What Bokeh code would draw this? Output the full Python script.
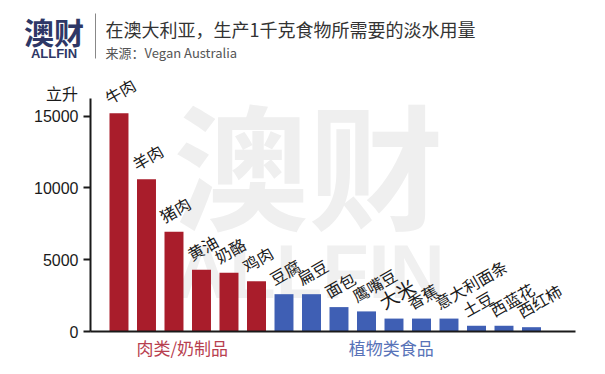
from bokeh.plotting import figure
from bokeh.models import ColumnDataSource, FixedTicker, Range1d
from bokeh.core.properties import value
from bokeh.embed import file_html
from bokeh.resources import INLINE

# ---- data ----
foods = ["牛肉", "羊肉", "猪肉", "黄油", "奶酪", "鸡肉", "豆腐", "扁豆", "面包", "鹰嘴豆",
         "大米", "香蕉", "意大利面条", "土豆", "西蓝花", "西红柿"]
litres = [15200, 10600, 6950, 4300, 4100, 3500, 2600, 2600, 1700, 1400,
          900, 900, 900, 400, 400, 300]
groups = ["肉类/奶制品"] * 6 + ["植物类食品"] * 10
group_names = ["肉类/奶制品", "植物类食品"]
y_ticks = [0, 5000, 10000, 15000]
y_unit = "立升"
title = "在澳大利亚，生产1千克食物所需要的淡水用量"
subtitle = "来源：Vegan Australia"

# ---- style ----
CJK = "Noto Sans CJK SC"
RED = "#a91d2b"
BLUE = "#3f5fb4"
INK = "#1a1a1a"
group_colors = {"肉类/奶制品": RED, "植物类食品": BLUE}
group_text_colors = {"肉类/奶制品": "#b8404f", "植物类食品": "#5873b8"}
label_sizes = ["16px"] * len(foods)
label_sizes[foods.index("大米")] = "19px"

W, H = 589, 366
XPX = 27.5            # pixels per bar slot
YPX = 215.3 / 15000   # pixels per litre
AXIS_X = -1.036       # y axis position in bar units
X0 = AXIS_X - 90 / XPX
X1 = X0 + W / XPX
Y1 = 331 / YPX
Y0 = -(H - 331) / YPX


def px(x):
    return X0 + x / XPX


def py(y):
    return Y1 - y / YPX


xs = list(range(len(foods)))
src = ColumnDataSource(dict(
    x=xs, top=litres, food=foods,
    color=[group_colors[g] for g in groups],
    size=label_sizes,
))

p = figure(width=W, height=H, output_backend="svg", toolbar_location=None,
           x_range=Range1d(X0, X1), y_range=Range1d(Y0, Y1),
           min_border_left=0, min_border_right=0, min_border_top=0, min_border_bottom=0)
p.background_fill_color = "white"
p.border_fill_color = "white"
p.outline_line_color = None
p.grid.visible = False

# watermark
p.text(x=[px(308)], y=[py(160)], text=["澳财"], text_font=value(CJK), text_font_style="bold",
       text_font_size="135px", text_color="#efefef", text_align="center", text_baseline="middle")
p.text(x=[px(309)], y=[py(271)], text=["ALLFIN"], text_font=value("Liberation Sans"),
       text_font_style="bold", text_font_size="76px", text_color="#f0f0f0",
       text_align="center", text_baseline="middle")

# bars
p.vbar(x="x", top="top", width=0.69, bottom=0, color="color", source=src, line_color=None)

# bar labels
p.text(x="x", y="top", text="food", source=src, angle=0.52, x_offset=-7, y_offset=-4,
       text_align="left", text_baseline="bottom", text_font=value(CJK),
       text_font_size="size", text_color=INK)

# group labels
gx = []
for g in group_names:
    idx = [i for i, gg in enumerate(groups) if gg == g]
    gx.append(sum(idx) / len(idx))
gsrc = ColumnDataSource(dict(x=[gx[0] - 0.2, gx[1] - 0.6], y=[py(347)] * 2, text=group_names,
                             color=[group_text_colors[g] for g in group_names]))
p.text(x="x", y="y", text="text", source=gsrc, text_color="color", text_font=value(CJK),
       text_font_size="17px", text_align="center", text_baseline="middle")

# axes
p.xaxis.fixed_location = 0
p.xaxis.bounds = (AXIS_X, len(foods) + 0.6)
p.xaxis.ticker = FixedTicker(ticks=[])
p.xaxis.major_tick_line_color = None
p.xaxis.minor_tick_line_color = None
p.xaxis.axis_line_width = 2
p.xaxis.axis_line_color = INK

p.yaxis.fixed_location = AXIS_X
p.yaxis.bounds = (0, 16200)
p.yaxis.ticker = FixedTicker(ticks=y_ticks)
p.yaxis.minor_tick_line_color = None
p.yaxis.major_tick_in = 0
p.yaxis.major_tick_out = 7
p.yaxis.major_tick_line_width = 2
p.yaxis.major_tick_line_color = INK
p.yaxis.axis_line_width = 2
p.yaxis.axis_line_color = INK
p.yaxis.major_label_text_font = "Liberation Sans"
p.yaxis.major_label_text_font_size = "16px"
p.yaxis.major_label_text_color = INK
p.yaxis.major_label_standoff = 5

# unit label
p.text(x=[px(61.5)], y=[py(92)], text=[y_unit], text_font=value(CJK), text_font_size="16px",
       text_color=INK, text_align="center", text_baseline="middle")

# header
p.text(x=[px(53.5)], y=[py(30)], text=["澳财"], text_font=value(CJK), text_font_style="bold",
       text_font_size="30px", text_color="#2e3766", text_align="center", text_baseline="middle")
p.text(x=[px(53.5)], y=[py(53)], text=["ALLFIN"], text_font=value("Liberation Sans"),
       text_font_style="bold", text_font_size="13px", text_color="#2e3766",
       text_align="center", text_baseline="middle")
p.segment(x0=[px(95)], y0=[py(13)], x1=[px(95)], y1=[py(58)], line_color="#888888", line_width=1)
p.text(x=[px(105)], y=[py(28)], text=[title], text_font=value(CJK), text_font_size="18px",
       text_color="#333333", text_align="left", text_baseline="middle")
p.text(x=[px(105)], y=[py(52)], text=[subtitle], text_font=value(CJK), text_font_size="13px",
       text_color="#555555", text_align="left", text_baseline="middle")

open("out.html", "w").write(file_html(p, INLINE))
